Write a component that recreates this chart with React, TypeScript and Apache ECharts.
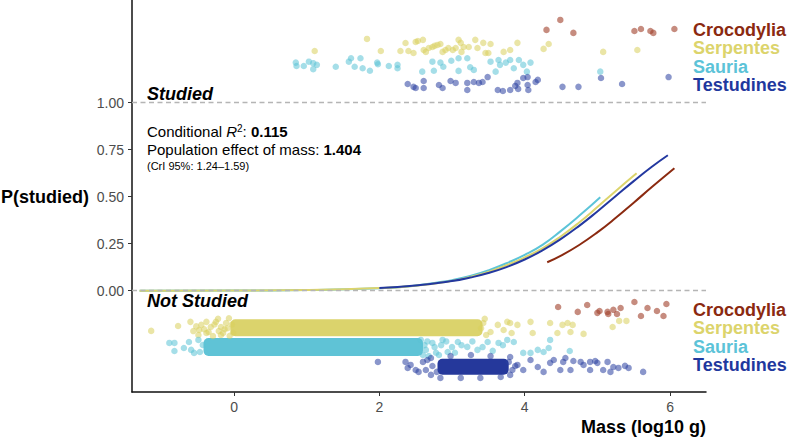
import React, { useEffect, useRef } from "react";
import * as echarts from "echarts";

const FONT = '"Liberation Sans", Arial, Helvetica, sans-serif';

const taxa = ["Crocodylia", "Serpentes", "Sauria", "Testudines"];
const textColors = ["#8b2a10", "#dcd46c", "#5cc3d8", "#1f389e"];
const pointColors = ["#a0402a", "#d8cf5c", "#5bc2d6", "#2a3fa0"];
const bandColors = ["#a0402a", "#dbd36c", "#5fc3d6", "#25389b"];

const xTicks = [0, 2, 4, 6];
const yTicks = [0, 0.25, 0.5, 0.75, 1];

// Studied points (jittered above 1)
const crocStudied = [
  [4.3, 1.387], [4.49, 1.44], [4.67, 1.371], [5.51, 1.381], [5.6, 1.392],
  [5.73, 1.381], [5.77, 1.371], [6.06, 1.392],
];
const serpStudied = [
  [1.83, 1.339], [1.11, 1.275], [2.02, 1.275], [2.29, 1.275], [2.36, 1.317],
  [2.4, 1.275], [2.47, 1.264], [2.5, 1.323], [2.53, 1.328], [2.6, 1.334],
  [2.61, 1.28], [2.64, 1.27], [2.68, 1.291], [2.73, 1.296], [2.76, 1.302],
  [2.8, 1.307], [2.84, 1.312], [2.87, 1.27], [2.91, 1.28], [2.95, 1.291],
  [3.01, 1.28], [3.05, 1.291], [3.09, 1.334], [3.12, 1.318], [3.13, 1.27],
  [3.16, 1.296], [3.23, 1.296], [3.32, 1.334], [3.35, 1.291], [3.43, 1.318],
  [3.46, 1.264], [3.5, 1.264], [3.53, 1.312], [3.71, 1.27], [3.8, 1.28],
  [3.9, 1.318], [4.26, 1.286], [4.33, 1.312], [5.08, 1.27], [5.55, 1.28],
];
const sauStudied = [
  [0.85, 1.213], [0.86, 1.195], [0.96, 1.195], [1.03, 1.218], [1.09, 1.21],
  [1.09, 1.178], [1.14, 1.201], [1.4, 1.191], [1.58, 1.218], [1.61, 1.236],
  [1.74, 1.236], [1.66, 1.191], [1.77, 1.183], [1.87, 1.17], [1.97, 1.213],
  [1.98, 1.204], [2.13, 1.195], [2.25, 1.201], [2.25, 1.183], [2.59, 1.165],
  [2.73, 1.218], [2.75, 1.17], [2.84, 1.213], [2.88, 1.191], [2.99, 1.223],
  [3.09, 1.236], [3.09, 1.169], [3.21, 1.236], [3.25, 1.188], [3.3, 1.174],
  [3.53, 1.218], [3.6, 1.165], [3.64, 1.227], [3.66, 1.201], [3.74, 1.213],
  [3.8, 1.227], [3.85, 1.183], [3.92, 1.227], [3.98, 1.201], [4.03, 1.165],
  [4.08, 1.213], [5.04, 1.165],
];
const testStudied = [
  [2.39, 1.099], [2.5, 1.078], [2.47, 1.084], [2.61, 1.115], [2.61, 1.078],
  [2.82, 1.094], [2.87, 1.078], [2.98, 1.115], [3.05, 1.105], [3.21, 1.105],
  [3.21, 1.067], [3.3, 1.11], [3.37, 1.105], [3.42, 1.11], [3.49, 1.136],
  [3.63, 1.067], [3.7, 1.062], [3.8, 1.067], [3.87, 1.089], [3.9, 1.105],
  [3.91, 1.073], [3.98, 1.131], [4.04, 1.136], [4.04, 1.094], [4.05, 1.067],
  [4.15, 1.11], [4.18, 1.121], [4.52, 1.084], [4.74, 1.084], [5.05, 1.131],
  [5.34, 1.099], [5.98, 1.136],
];

// Not studied points (jittered below 0)
const crocNot = [
  [4.46, -0.087], [4.73, -0.113], [4.86, -0.076], [5.0, -0.118], [5.03, -0.108],
  [5.14, -0.113], [5.15, -0.124], [5.22, -0.102], [5.27, -0.124], [5.32, -0.092],
  [5.51, -0.06], [5.6, -0.135], [5.69, -0.092], [5.82, -0.108], [5.91, -0.135],
  [5.95, -0.071],
];
const serpNot = [
  [-1.14, -0.214], [-0.77, -0.188], [-0.6, -0.166], [-0.48, -0.209], [-0.45, -0.182],
  [-0.38, -0.166], [-0.32, -0.193], [-0.25, -0.166], [-0.18, -0.193], [-0.11, -0.172],
  [-0.49, -0.236], [-0.38, -0.225], [-0.29, -0.241], [-0.18, -0.236], [-0.07, -0.147],
  [-0.01, -0.225], [-0.21, -0.215], [-0.13, -0.205], [-0.06, -0.24], [-0.03, -0.18],
  [-0.52, -0.19], [-0.41, -0.205], [-0.35, -0.22], [-0.27, -0.18], [-0.22, -0.15],
  [-0.15, -0.225], [-0.09, -0.2], [-0.56, -0.215],
  [3.43, -0.172], [3.53, -0.22], [3.63, -0.182], [3.71, -0.209], [3.47, -0.236],
  [3.8, -0.172], [3.76, -0.166], [3.82, -0.225], [3.9, -0.182], [4.08, -0.166],
  [4.11, -0.225], [4.35, -0.172], [4.45, -0.225], [4.52, -0.182], [4.59, -0.172],
  [4.63, -0.22], [4.66, -0.182], [4.81, -0.23], [5.21, -0.193], [5.3, -0.161],
  [5.4, -0.161], [3.4, -0.2], [3.45, -0.15],
];
const sauNot = [
  [-0.89, -0.278], [-0.82, -0.278], [-0.82, -0.321], [-0.69, -0.305], [-0.62, -0.273],
  [-0.59, -0.315], [-0.55, -0.331], [-0.49, -0.262], [-0.47, -0.326], [-0.43, -0.289],
  [2.57, -0.262], [2.64, -0.315], [2.73, -0.278], [2.62, -0.29],
  [2.82, -0.342], [2.6, -0.342], [2.68, -0.348], [2.87, -0.262], [2.94, -0.326],
  [2.66, -0.27], [2.76, -0.3], [2.85, -0.29], [2.92, -0.27], [3.0, -0.3],
  [3.04, -0.33], [2.78, -0.33], [3.13, -0.29], [3.28, -0.27], [3.42, -0.3],
  [3.56, -0.32], [3.7, -0.29],
  [3.08, -0.273], [3.21, -0.299], [3.35, -0.315], [3.49, -0.273], [3.64, -0.278],
  [3.76, -0.262], [3.85, -0.273], [3.98, -0.331], [4.08, -0.331], [4.18, -0.315],
  [4.26, -0.326], [4.33, -0.305], [4.35, -0.262], [4.62, -0.321],
];
const testNot = [
  [1.98, -0.379], [2.39, -0.411], [2.43, -0.395], [2.5, -0.422], [2.6, -0.379],
  [2.71, -0.358], [2.64, -0.422], [2.36, -0.379], [2.54, -0.432], [2.66, -0.369],
  [2.73, -0.401], [2.79, -0.432], [2.71, -0.448],
  [2.84, -0.464], [3.12, -0.464], [3.39, -0.464], [3.67, -0.459], [2.98, -0.348],
  [3.26, -0.342], [3.53, -0.348], [3.8, -0.353], [3.78, -0.379], [3.83, -0.422],
  [3.87, -0.401], [3.8, -0.448], [3.9, -0.395], [3.98, -0.422],
  [4.08, -0.369], [4.18, -0.406], [4.26, -0.432], [4.35, -0.384], [4.4, -0.369],
  [4.49, -0.422], [4.53, -0.379], [4.63, -0.422], [4.77, -0.379], [4.81, -0.395],
  [4.9, -0.379], [5.0, -0.384], [4.9, -0.422], [5.08, -0.422], [5.14, -0.379],
  [4.56, -0.358], [4.67, -0.374], [4.97, -0.374], [5.18, -0.432], [5.22, -0.406],
  [5.29, -0.411], [5.38, -0.4], [5.43, -0.411], [5.63, -0.432],
];

// Dense cores of the not-studied clouds: [x start, x end, y centre]
const serpBand = [[-0.05, 3.42, -0.197]];
const sauBand = [[-0.42, 2.6, -0.3]];
const testBand = [[2.8, 3.78, -0.405]];

// Fitted probability curves
const sauCurve = [
  [-1.3, 0.0001], [0, 0.0007], [1, 0.003], [2, 0.0126], [2.5, 0.027], [2.84, 0.046],
  [3, 0.056], [3.25, 0.078], [3.5, 0.108], [3.75, 0.146], [4, 0.19], [4.25, 0.245],
  [4.5, 0.318], [4.75, 0.398], [5.04, 0.497],
];
const serpCurve = [
  [-1.3, 0.00016], [0, 0.00094], [1, 0.0036], [2, 0.0138], [2.5, 0.0266], [3, 0.052],
  [3.25, 0.073], [3.5, 0.1], [3.75, 0.135], [4, 0.177], [4.25, 0.226],
  [4.5, 0.2895], [4.75, 0.363], [5, 0.4445], [5.25, 0.529], [5.54, 0.624],
];
const testCurve = [
  [2, 0.0145], [2.5, 0.0274], [3, 0.0512], [3.25, 0.0697], [3.5, 0.0937],
  [3.75, 0.1254], [4, 0.1656], [4.25, 0.2156], [4.5, 0.2755], [4.75, 0.3448],
  [5, 0.4214], [5.25, 0.502], [5.5, 0.5825], [5.75, 0.6588], [5.97, 0.72],
];
const crocCurve = [
  [4.31, 0.151], [4.5, 0.1866], [4.75, 0.243], [5, 0.31], [5.25, 0.386],
  [5.5, 0.4678], [5.75, 0.551], [6.06, 0.651],
];

const X_MIN = -1.404;
const X_MAX = 6.495;
const Y_MIN = -0.539;
const Y_MAX = 1.546;

function scatter(data: number[][], color: string, opacity: number) {
  return {
    type: "scatter",
    data,
    symbol: "circle",
    symbolSize: 6.5,
    itemStyle: { color, opacity },
    silent: true,
  };
}

function band(data: number[][], color: string, height: number) {
  return {
    type: "custom",
    data,
    silent: true,
    encode: { x: [0, 1], y: 2 },
    renderItem: (_params: any, api: any) => {
      const p0 = api.coord([api.value(0), api.value(2)]);
      const p1 = api.coord([api.value(1), api.value(2)]);
      return {
        type: "rect",
        shape: {
          x: p0[0],
          y: p0[1] - height / 2,
          width: p1[0] - p0[0],
          height,
          r: 5,
        },
        style: { fill: color },
      };
    },
  };
}

function curve(data: number[][], color: string) {
  return {
    type: "line",
    data,
    symbol: "none",
    smooth: true,
    lineStyle: { color, width: 2 },
    silent: true,
  };
}

export default function App() {
  const ref = useRef<HTMLDivElement>(null);

  useEffect(() => {
    if (!ref.current) return;
    const chart = echarts.init(ref.current, null, { renderer: "svg" });

    const legendBlock = (yStart: number) =>
      taxa.map((t, i) => ({
        type: "text",
        x: 693,
        y: yStart + i * 18.5,
        style: {
          text: t,
          fill: textColors[i],
          font: `bold 18px ${FONT}`,
          textAlign: "left",
          textVerticalAlign: "middle",
          verticalAlign: "middle",
        },
      }));

    const option: any = {
      animation: false,
      grid: { left: 132, right: 84, top: 0, bottom: 46, containLabel: false },
      xAxis: {
        type: "value",
        min: X_MIN,
        max: X_MAX,
        splitLine: { show: false },
        axisLine: { show: true, onZero: false, lineStyle: { color: "#111", width: 1.5 } },
        axisTick: { show: true, length: 4, customValues: xTicks, lineStyle: { color: "#333", width: 1 } },
        axisLabel: {
          customValues: xTicks,
          color: "#4d4d4d",
          fontSize: 14,
          fontFamily: FONT,
          margin: 8,
          formatter: (v: number) => String(v),
        },
      },
      yAxis: {
        type: "value",
        min: Y_MIN,
        max: Y_MAX,
        splitLine: { show: false },
        axisLine: { show: true, onZero: false, lineStyle: { color: "#111", width: 1.5 } },
        axisTick: { show: true, length: 4, customValues: yTicks, lineStyle: { color: "#333", width: 1 } },
        axisLabel: {
          customValues: yTicks,
          color: "#4d4d4d",
          fontSize: 14,
          fontFamily: FONT,
          margin: 8,
          formatter: (v: number) => v.toFixed(2),
        },
      },
      graphic: [
        {
          type: "text",
          x: 89,
          y: 197,
          style: {
            text: "P(studied)",
            fill: "#000",
            font: `bold 18px ${FONT}`,
            textAlign: "right",
            textVerticalAlign: "middle",
            verticalAlign: "middle",
          },
        },
        {
          type: "text",
          x: 706,
          y: 427,
          style: {
            text: "Mass (log10 g)",
            fill: "#000",
            font: `bold 18px ${FONT}`,
            textAlign: "right",
            textVerticalAlign: "middle",
            verticalAlign: "middle",
          },
        },
        {
          type: "text",
          x: 147,
          y: 94,
          style: {
            text: "Studied",
            fill: "#000",
            font: `italic bold 18px ${FONT}`,
            textAlign: "left",
            textVerticalAlign: "middle",
            verticalAlign: "middle",
          },
        },
        {
          type: "text",
          x: 147,
          y: 301,
          style: {
            text: "Not Studied",
            fill: "#000",
            font: `italic bold 18px ${FONT}`,
            textAlign: "left",
            textVerticalAlign: "middle",
            verticalAlign: "middle",
          },
        },
        {
          type: "text",
          x: 147,
          y: 131,
          style: {
            text: "{a|Conditional }{i|R}{s|2}{a|: }{b|0.115}",
            textVerticalAlign: "middle",
            verticalAlign: "middle",
            rich: {
              a: { fontSize: 15, fontFamily: FONT, fill: "#000", color: "#000" },
              i: { fontSize: 15, fontFamily: FONT, fontStyle: "italic", fill: "#000", color: "#000" },
              s: { fontSize: 10, fontFamily: FONT, fill: "#000", color: "#000", verticalAlign: "top", padding: [0, 0, 6, 0] },
              b: { fontSize: 15, fontFamily: FONT, fontWeight: "bold", fill: "#000", color: "#000" },
            },
          },
        },
        {
          type: "text",
          x: 147,
          y: 149.5,
          style: {
            text: "{a|Population effect of mass: }{b|1.404}",
            textVerticalAlign: "middle",
            verticalAlign: "middle",
            rich: {
              a: { fontSize: 15, fontFamily: FONT, fill: "#000", color: "#000" },
              b: { fontSize: 15, fontFamily: FONT, fontWeight: "bold", fill: "#000", color: "#000" },
            },
          },
        },
        {
          type: "text",
          x: 147,
          y: 165.5,
          style: {
            text: "(CrI 95%: 1.24\u20131.59)",
            fill: "#000",
            font: `11px ${FONT}`,
            textAlign: "left",
            textVerticalAlign: "middle",
            verticalAlign: "middle",
          },
        },
        ...legendBlock(29.5),
        ...legendBlock(309.8),
      ],
      series: [
        {
          type: "line",
          data: [],
          symbol: "none",
          silent: true,
          markLine: {
            silent: true,
            symbol: "none",
            label: { show: false },
            lineStyle: { color: "#b5b5b5", type: [5, 3.5], width: 1.3 },
            data: [{ yAxis: 1 }, { yAxis: 0 }],
          },
        },
        scatter(crocStudied, pointColors[0], 0.6),
        scatter(crocNot, pointColors[0], 0.6),
        band(serpBand, bandColors[1], 17),
        scatter(serpStudied, pointColors[1], 0.55),
        scatter(serpNot, pointColors[1], 0.55),
        band(sauBand, bandColors[2], 18),
        scatter(sauStudied, pointColors[2], 0.55),
        scatter(sauNot, pointColors[2], 0.55),
        band(testBand, bandColors[3], 16),
        scatter(testStudied, pointColors[3], 0.55),
        scatter(testNot, pointColors[3], 0.55),
        curve(sauCurve, "#5cc4d8"),
        curve(serpCurve, "#dcd46c"),
        curve(testCurve, "#2338a0"),
        curve(crocCurve, "#8b2a10"),
      ],
    };

    chart.setOption(option);
    return () => chart.dispose();
  }, []);

  return (
    <div
      ref={ref}
      style={{ position: "absolute", left: 0, top: 0, width: 790, height: 438 }}
    />
  );
}
